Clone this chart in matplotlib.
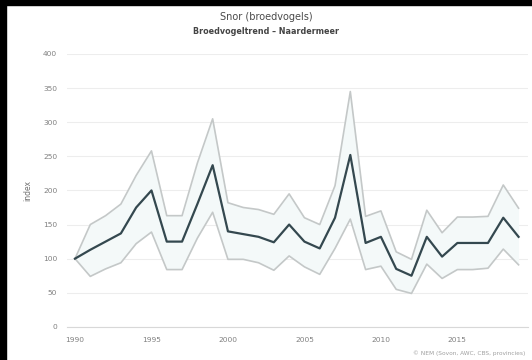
import numpy as np
import matplotlib
matplotlib.use("Agg")
import matplotlib.pyplot as plt
from matplotlib.patches import Rectangle

# Snor (broedvogels) - Naardermeer, index values
years = list(range(1990, 2020))
index = [100, 113, 125, 137, 175, 200, 125, 125, 180, 237,
         140, 136, 132, 124, 150, 125, 115, 160, 252, 123,
         132, 85, 75, 132, 103, 123, 123, 123, 160, 132]
upper = [100, 150, 163, 180, 222, 258, 163, 163, 240, 305,
         182, 175, 172, 165, 195, 160, 150, 207, 345, 162,
         170, 110, 99, 171, 138, 161, 161, 162, 208, 174]
lower = [100, 74, 85, 94, 122, 139, 84, 84, 130, 168,
         99, 99, 94, 83, 104, 88, 77, 115, 158, 84,
         89, 55, 49, 92, 71, 84, 84, 86, 114, 91]

y_ticks = [0, 50, 100, 150, 200, 250, 300, 350, 400]
x_ticks = [1990, 1995, 2000, 2005, 2010, 2015]

fig = plt.figure(figsize=(5.32, 3.6), dpi=100)
ax = fig.add_axes([0.126, 0.092, 0.866, 0.758])

ax.fill_between(years, lower, upper, color="#f4f9f9", lw=0, zorder=1)
ax.plot(years, upper, color="#c4c8c8", lw=1.2, zorder=2)
ax.plot(years, lower, color="#c4c8c8", lw=1.2, zorder=2)
ax.plot(years, index, color="#34484f", lw=1.6, zorder=3)

ax.set_xlim(1989.48, 2019.6)
ax.set_ylim(0, 400)
ax.set_yticks(y_ticks)
ax.set_xticks(x_ticks)
ax.tick_params(axis="both", length=0, labelsize=5.4, colors="#808080", pad=7)
ax.grid(axis="y", color="#ededed", lw=0.8)
ax.set_axisbelow(True)
for side in ["top", "right", "left"]:
    ax.spines[side].set_visible(False)
ax.spines["bottom"].set_color("#d8d8d8")
ax.set_ylabel("index", fontsize=5.5, color="#707070", labelpad=8)

fig.text(0.5, 0.952, "Snor (broedvogels)", ha="center", va="center",
         fontsize=7, color="#4a4a4a")
fig.text(0.5, 0.913, "Broedvogeltrend \u2013 Naardermeer", ha="center", va="center",
         fontsize=5.8, color="#444444", fontweight="bold")
fig.text(0.988, 0.02, "\u00a9 NEM (Sovon, AWC, CBS, provincies)", ha="right",
         va="center", fontsize=4.2, color="#a0a0a0")

# black frame edges of the screenshot
fig.patches.append(Rectangle((0, 0), 6 / 532, 1, transform=fig.transFigure,
                             color="black", zorder=10))
fig.patches.append(Rectangle((0, 1 - 5 / 360), 1, 5 / 360, transform=fig.transFigure,
                             color="black", zorder=10))

fig.savefig("out.png", dpi=100)
